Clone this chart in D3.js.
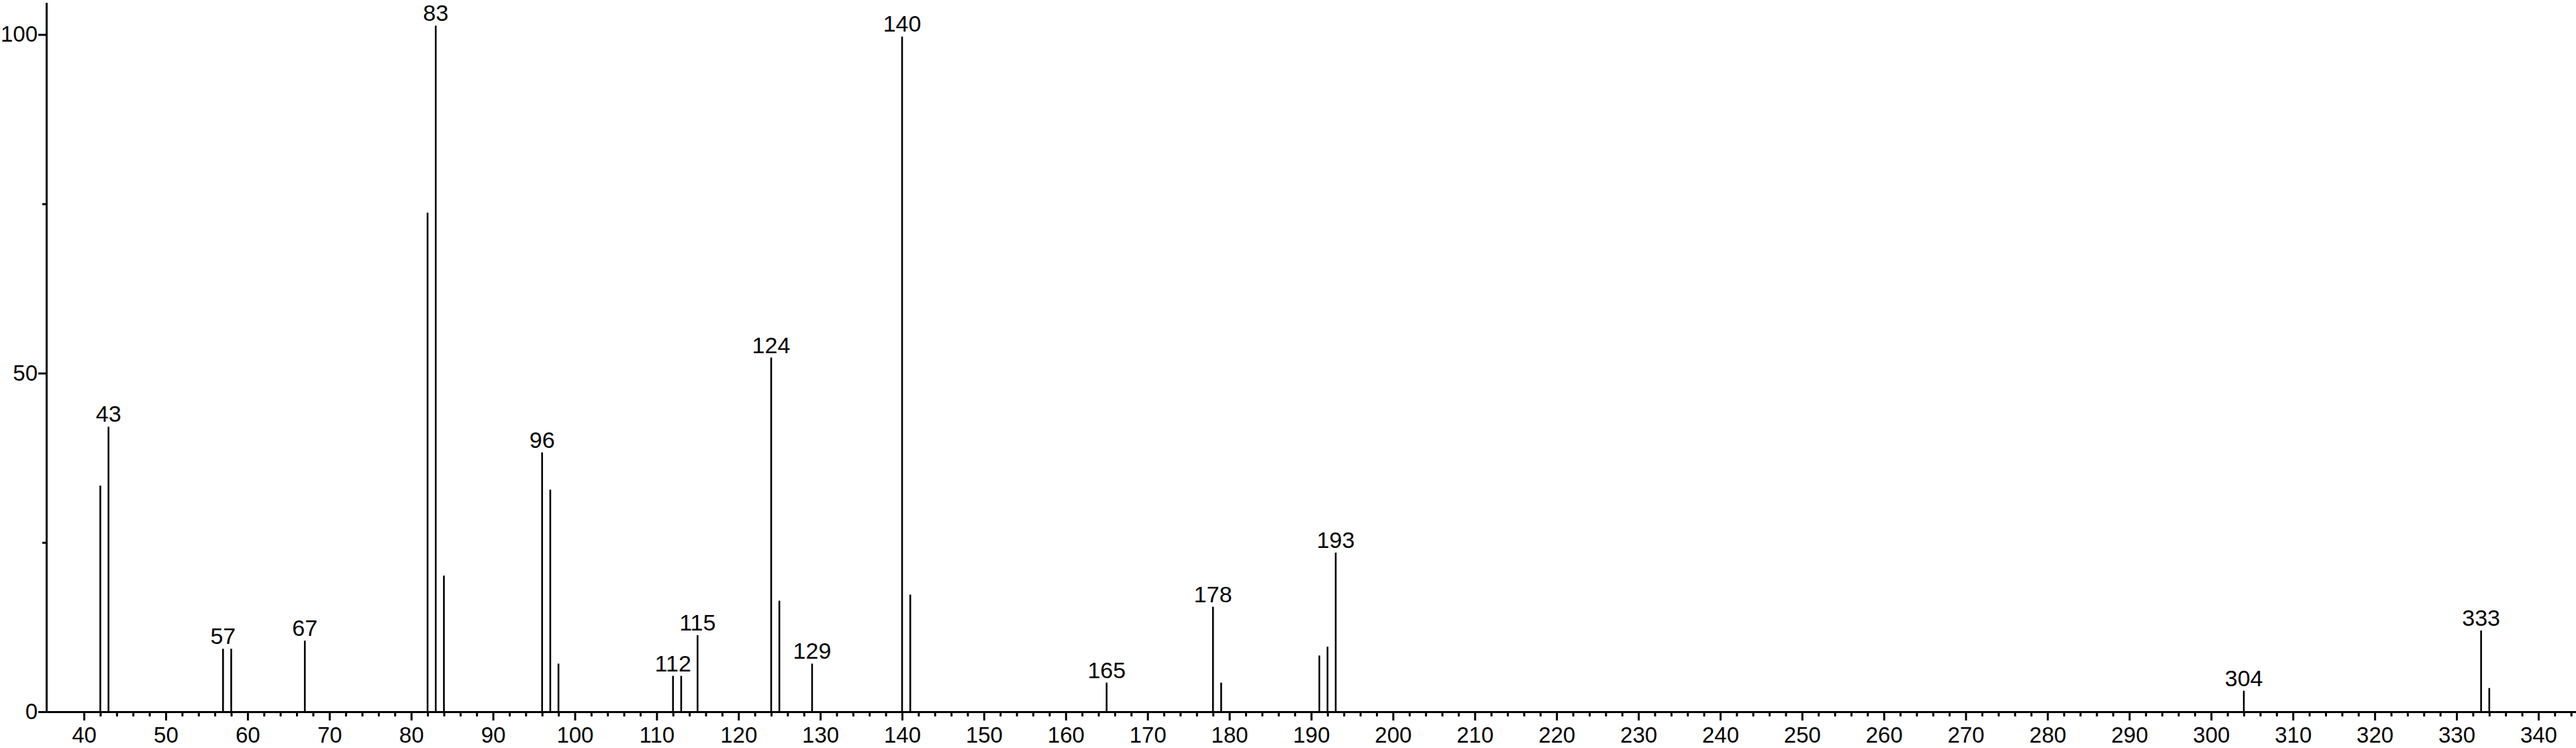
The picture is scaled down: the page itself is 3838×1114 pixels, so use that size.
<!DOCTYPE html>
<html lang="en">
<head>
	<meta charset="utf-8" />
	<title>Mass spectrum</title>
	<script src="https://d3js.org/d3.v7.min.js"></script>
    <style>
        body {
            margin: 0;
            background: white;
        }
        svg {
            display: block;
            font-family: "Liberation Sans", Arial, sans-serif;
        }
        .axis text {
            font-size: 33px;
            fill: black;
        }
        .axis path, .axis line {
            stroke: black;
            stroke-width: 3;
        }
        .peak {
            stroke: black;
            stroke-width: 2.6;
        }
        .peak-label {
            font-size: 34px;
            fill: black;
            text-anchor: middle;
        }
    </style>
</head>
<body>
	<script>
    // m/z of each peak and its relative intensity (%)
    const mz = [42, 43, 57, 58, 67, 82, 83, 84, 96, 97, 98, 112, 113, 115, 124, 125,
        129, 140, 141, 165, 178, 179, 191, 192, 193, 304, 333, 334];
    const intensity = [33.4, 42.1, 9.3, 9.3, 10.5, 73.7, 101.3, 20.1, 38.3, 32.8, 7.1, 5.3, 5.3, 11.3, 52.3, 16.4,
        7.1, 99.7, 17.3, 4.3, 15.5, 4.3, 8.3, 9.6, 23.5, 3.1, 12.0, 3.5];
    // peaks that carry a label
    const labeledMz = [43, 57, 67, 83, 96, 112, 115, 124, 129, 140, 165, 178, 193, 304, 333];

    // axis ticks
    const xMajorTicks = [40, 50, 60, 70, 80, 90, 100, 110, 120, 130, 140, 150, 160, 170, 180, 190,
        200, 210, 220, 230, 240, 250, 260, 270, 280, 290, 300, 310, 320, 330, 340];
    const xMinorTicks = d3.range(42, 345, 2).filter(v => v % 10 !== 0);
    const yMajorTicks = [0, 50, 100];
    const yMinorTicks = [25, 75];

    const width = 3838, height = 1114;
    const peaks = mz.map((m, i) => ({mz: m, value: intensity[i], label: labeledMz.includes(m)}));

    let svg = d3.select("body")
        .append("svg")
        .attr("width", width)
        .attr("height", height);

    let x = d3.scaleLinear()
        .domain([35.4, 344.6])
        .range([69, width]);

    let y = d3.scaleLinear()
        .domain([0, 104.7])
        .range([1060, 4]);

    // minor ticks first, major axis on top
    svg.append("g")
        .attr("class", "axis")
        .attr("transform", "translate(0," + y(0) + ")")
        .call(d3.axisBottom(x).tickValues(xMinorTicks).tickSize(7).tickSizeOuter(0).tickFormat(""));

    svg.append("g")
        .attr("class", "axis")
        .attr("transform", "translate(0," + y(0) + ")")
        .call(d3.axisBottom(x).tickValues(xMajorTicks).tickSize(13).tickSizeOuter(0).tickPadding(10));

    svg.append("g")
        .attr("class", "axis")
        .attr("transform", "translate(" + x.range()[0] + ",0)")
        .call(d3.axisLeft(y).tickValues(yMinorTicks).tickSize(6).tickSizeOuter(0).tickFormat(""));

    svg.append("g")
        .attr("class", "axis")
        .attr("transform", "translate(" + x.range()[0] + ",0)")
        .call(d3.axisLeft(y).tickValues(yMajorTicks).tickSize(12).tickSizeOuter(0).tickPadding(1));

    // stick peaks
    svg.selectAll("line.peak")
        .data(peaks)
        .enter()
        .append("line")
        .attr("class", "peak")
        .attr("x1", d => x(d.mz))
        .attr("x2", d => x(d.mz))
        .attr("y1", y(0))
        .attr("y2", d => y(d.value));

    // m/z labels above the main peaks
    svg.selectAll("text.peak-label")
        .data(peaks.filter(d => d.label))
        .enter()
        .append("text")
        .attr("class", "peak-label")
        .attr("x", d => x(d.mz))
        .attr("y", d => y(d.value) - 7)
        .text(d => d.mz);
	</script>
</body>
</html>
